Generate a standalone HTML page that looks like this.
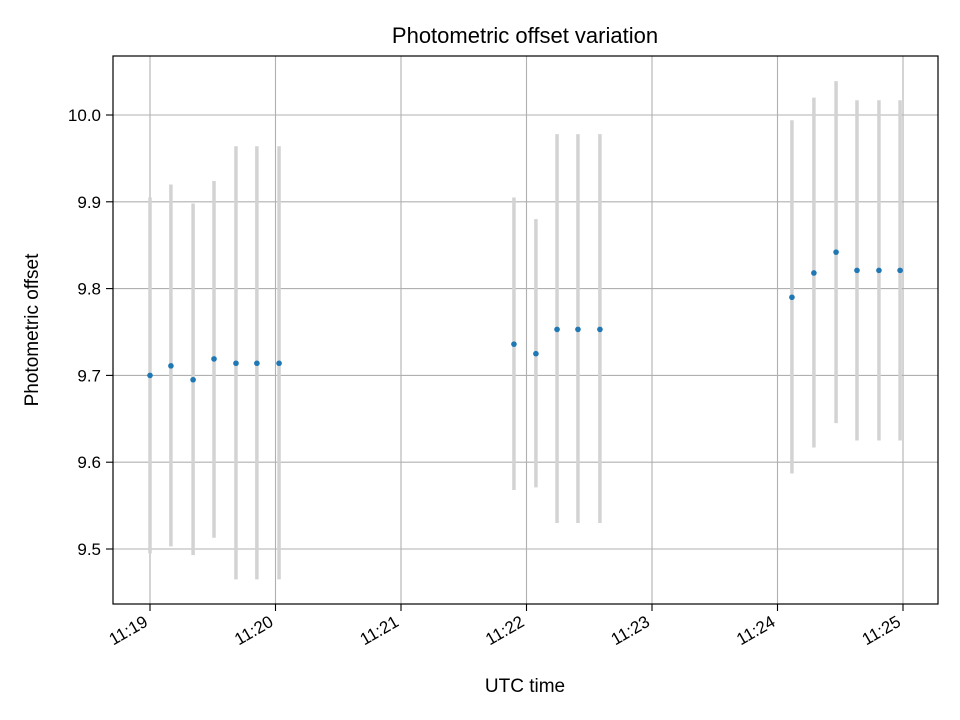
<!DOCTYPE html>
<html><head><meta charset="utf-8"><style>
html,body{margin:0;padding:0;background:#fff;}
svg{display:block;font-family:"Liberation Sans","DejaVu Sans",sans-serif;}
</style></head><body>
<svg id="chart" width="960" height="720" viewBox="0 0 960 720">
<text x="525" y="43" font-size="22" text-anchor="middle">Photometric offset variation</text>
<g id="grid"></g>
<g id="bars"></g>
<g id="pts"></g>
<rect x="113" y="56" width="825" height="548" fill="none" stroke="#000" stroke-width="1.2"/>
<g id="xt"></g>
<g id="yt"></g>
<text x="525" y="692" font-size="19" text-anchor="middle">UTC time</text>
<text transform="translate(38,330) rotate(-90)" font-size="19" text-anchor="middle">Photometric offset</text>
</svg>
<script>
// seconds after 11:19:00
const times = [0,10,20.6,30.6,41.1,51.1,61.7, 174,184.5,194.6,204.6,215.1, 306.9,317.4,328,338,348.5,358.6];
const values = [9.700,9.711,9.695,9.719,9.714,9.714,9.714, 9.736,9.725,9.753,9.753,9.753, 9.790,9.818,9.842,9.821,9.821,9.821];
const lows = [9.495,9.503,9.493,9.513,9.465,9.465,9.465, 9.568,9.571,9.530,9.530,9.530, 9.587,9.617,9.645,9.625,9.625,9.625];
const highs = [9.905,9.920,9.898,9.924,9.964,9.964,9.964, 9.905,9.880,9.978,9.978,9.978, 9.994,10.020,10.039,10.017,10.017,10.017];
const xTickLabels = ["11:19","11:20","11:21","11:22","11:23","11:24","11:25"];
const yTickLabels = ["9.5","9.6","9.7","9.8","9.9","10.0"];

const NS="http://www.w3.org/2000/svg";
function xs(sec){return 150 + sec/60*125.5;}
function ys(v){return 549 - (v-9.5)*868;}
function mk(tag,attrs,parent){const e=document.createElementNS(NS,tag);for(const k in attrs)e.setAttribute(k,attrs[k]);parent.appendChild(e);return e;}
const grid=document.getElementById('grid'),bars=document.getElementById('bars'),pts=document.getElementById('pts'),xt=document.getElementById('xt'),yt=document.getElementById('yt');

xTickLabels.forEach((lab,i)=>{
  const x=xs(i*60);
  const g=mk('line',{x1:x,x2:x,y1:56,y2:604,stroke:'#b0b0b0','stroke-width':1.1},grid);
  
  
  const t=mk('line',{x1:x,x2:x,y1:604,y2:611,stroke:'#000','stroke-width':1.1},xt);
  
  
  const tx=mk('text',{transform:`translate(${x-1},${625}) rotate(-30)`,'font-size':17,'text-anchor':'end'},xt);
  tx.textContent=lab;
  
  
});
yTickLabels.forEach(lab=>{
  const y=ys(parseFloat(lab));
  const g=mk('line',{x1:113,x2:938,y1:y,y2:y,stroke:'#b0b0b0','stroke-width':1.1},grid);
  
  
  const t=mk('line',{x1:106,x2:113,y1:y,y2:y,stroke:'#000','stroke-width':1.1},yt);
  
  
  const tx=mk('text',{x:101,y:y+6,'font-size':17,'text-anchor':'end'},yt);
  tx.textContent=lab;
  
  
});
times.forEach((s,i)=>{
  const x=xs(s);
  const b=mk('line',{x1:x,x2:x,y1:ys(lows[i]),y2:ys(highs[i]),stroke:'#d3d3d3','stroke-width':3.5},bars);
  
  
  const c=mk('circle',{cx:x,cy:ys(values[i]),r:2.8,fill:'#1f77b4'},pts);
  
  
});
</script>
</body></html>
